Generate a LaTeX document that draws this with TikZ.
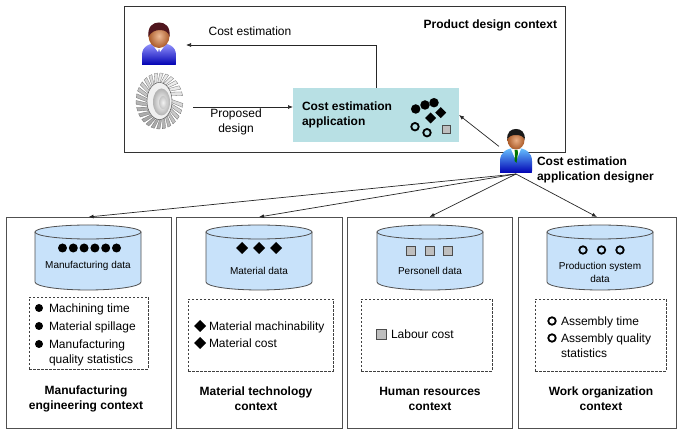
\documentclass[tikz,border=0pt]{standalone}
\usepackage{fontspec}
\setmainfont{Liberation Sans}
\usetikzlibrary{arrows.meta,shapes.geometric,calc}

\definecolor{appfill}{RGB}{184,224,228}
\definecolor{dbfill}{RGB}{200,226,250}
\definecolor{edge}{RGB}{80,80,80}
\definecolor{sqgray}{RGB}{190,190,190}
\definecolor{hairred}{RGB}{80,22,30}
\definecolor{skin}{RGB}{225,140,80}
\definecolor{skindark}{RGB}{170,90,40}

\tikzset{
  every node/.style={inner sep=0pt, outer sep=0pt},
  txt/.style={font=\fontsize{12}{15}\selectfont},
  btxt/.style={font=\fontsize{12}{15}\selectfont\bfseries},
  stxt/.style={font=\fontsize{10}{13}\selectfont},
  one/.style={text height=8.6pt, text depth=0pt},
  conn/.style={draw=black!85, line width=0.7pt, -{Latex[length=5pt,width=4pt]}},
  ctxbox/.style={draw=edge, line width=0.9pt, minimum height=211pt},
  dashbox/.style={draw=black!75, line width=0.6pt, dash pattern=on 2.5pt off 1.5pt, minimum height=72pt},
  holder/.style={minimum width=#1, minimum height=46pt},
  fdot/.style={circle, fill=black, minimum size=9pt},
  odot/.style={circle, draw=black, line width=1.8pt, minimum size=7.5pt},
  dmd/.style={diamond, fill=black, minimum size=12pt},
  gsq/.style={rectangle, fill=sqgray, draw=black!70, line width=0.6pt, minimum size=9pt},
  pics/datastore/.style={code={
    \path[fill=dbfill] (-53,232) -- (-53,282)
      arc[start angle=180,end angle=360,x radius=53pt,y radius=8pt] -- (53,232) -- cycle;
    \draw[edge, line width=0.8pt] (-53,232) -- (-53,282)
      arc[start angle=180,end angle=360,x radius=53pt,y radius=8pt] -- (53,232);
    \draw[edge, line width=0.8pt, fill=dbfill] (0,232) ellipse[x radius=53pt, y radius=7pt];
  }}
}

\begin{document}
\begin{tikzpicture}[x=1pt,y=-1pt]
\useasboundingbox[fill=white] (0,0) rectangle (678,430);

% ---------- product design context ----------
\node[draw=black!80, line width=1pt, minimum width=441pt, minimum height=146pt] (pdctx) at (344.5,80) {};
\node[btxt, one, anchor=east] (pdlabel) at (557,24) {Product design context};

\node[fill=appfill, minimum width=166pt, minimum height=54pt] (appbox) at (376,115) {};
\node[btxt, align=left, anchor=west] (applabel) at (302,115) {Cost estimation\\application};
\node[fdot, minimum size=9.5pt] (a1) at (415.7,109) {};
\node[fdot, minimum size=9.5pt] (a2) at (425,105) {};
\node[fdot, minimum size=9.5pt] (a3) at (434,102.7) {};
\node[dmd, minimum size=11pt] (a4) at (440.7,112.7) {};
\node[dmd, minimum size=11pt] (a5) at (430.7,118) {};
\node[odot] (a6) at (415,126.7) {};
\node[odot] (a7) at (427,132.7) {};
\node[gsq, minimum size=8pt] (a8) at (446,129.3) {};

% product designer
\node[holder=46pt] (user) at (163,45) {};
\begin{scope}[shift={(159,35)}]
  \shade[top color=blue!40!white, bottom color=blue!70!black]
    (-17,30) -- (-17,20) .. controls (-17,11) and (-9,8) .. (0,8)
    .. controls (9,8) and (17,11) .. (17,20) -- (17,28)
    .. controls (17,30) .. (15,30) -- (-15,30) .. controls (-17,30) .. (-17,28) -- cycle;
  \fill[white] (-7,9) -- (-1,17) -- (0,13) -- (1,17) -- (7,9) -- (4,8) -- (0,12) -- (-4,8) -- cycle;
  \shade[inner color=skin!60!white, outer color=skindark] (0,1) ellipse[x radius=10.5pt, y radius=12pt];
  \fill[hairred] (-10.7,2) .. controls (-11.5,-9) and (-6,-12.5) .. (0,-12.5)
    .. controls (6,-12.5) and (11.5,-9) .. (10.7,2)
    .. controls (9.5,-3) and (6,-5) .. (1,-5)
    .. controls (-4,-5) and (-8,-3) .. (-10.7,2) -- cycle;
\end{scope}

% turbine disk seen at an angle
\node[holder=60pt] (turbine) at (163,107) {};
\begin{scope}[shift={(159.5,101)}]
  \foreach \a in {0,14,...,346}{
    \pgfmathsetmacro{\shd}{int(42+24*sin(\a)-12*cos(\a))}
    \fill[gray!\shd, draw=black!55, line width=0.3pt]
      ({12*cos(\a-5)},{18*sin(\a-5)}) -- ({12*cos(\a+5)},{18*sin(\a+5)})
      -- ({23.5*cos(\a+13)},{28*sin(\a+13)}) -- ({23.5*cos(\a+5)},{28*sin(\a+5)}) -- cycle;
  }
  \fill[gray!12, draw=gray!60!black, line width=0.4pt]
    (0,0) ellipse[x radius=12.5pt, y radius=18.5pt];
  \shade[inner color=white, outer color=gray!60] (2,1) ellipse[x radius=8.5pt, y radius=13.5pt];
  \shade[inner color=gray!10, outer color=gray!45] (3.5,1.5) ellipse[x radius=4pt, y radius=6.5pt];
\end{scope}

\draw[conn] (appbox.north) |- (user.east);
\node[txt, one] (celabel) at (250,31) {Cost estimation};
\draw[conn] (turbine.east) -- (turbine.east -| appbox.west);
\node[txt, align=center] (pdesign) at (236,122) {Proposed\\design};

% application designer
\node[holder=34pt] (designer) at (516,151) {};
\begin{scope}[shift={(516,139)}]
  \shade[top color=blue!40!cyan!60!white, bottom color=blue!70!black]
    (-16,34) -- (-16,22) .. controls (-16,13) and (-9,9) .. (0,9)
    .. controls (9,9) and (16,13) .. (16,22) -- (16,32)
    .. controls (16,34) .. (14,34) -- (-14,34) .. controls (-16,34) .. (-16,32) -- cycle;
  \fill[white] (-5,10) -- (0,22) -- (5,10) -- cycle;
  \fill[green!45!black] (-1.5,11) -- (1.5,11) -- (2,14) -- (0.5,24) -- (-1.5,22) -- (-1,14) -- cycle;
  \shade[inner color=skin!70!white, outer color=skindark] (0,1) ellipse[x radius=8.5pt, y radius=9.5pt];
  \fill[black!90] (-8.7,1) .. controls (-9.5,-7) and (-5,-10) .. (0,-10)
    .. controls (5,-10) and (9.5,-7) .. (8.7,1)
    .. controls (7.5,-3) and (4,-4) .. (0,-4)
    .. controls (-4,-4) and (-7.5,-3) .. (-8.7,1) -- cycle;
\end{scope}
\node[btxt, align=left, anchor=west] (dlabel) at (537,170) {Cost estimation\\application designer};
\draw[conn] (designer.165) -- (appbox.east);

% ---------- the four data contexts ----------
\node[ctxbox, minimum width=165pt] (ctx1) at (88.5,322.5) {};
\node[ctxbox, minimum width=166pt] (ctx2) at (259,322.5) {};
\node[ctxbox, minimum width=165pt] (ctx3) at (429.5,322.5) {};
\node[ctxbox, minimum width=158pt] (ctx4) at (597,322.5) {};

\foreach \c in {ctx1,ctx2,ctx3,ctx4}{
  \draw[conn] (designer.south) -- (\c.north);
}

% data stores
\pic at (88,0) {datastore};
\pic at (259,0) {datastore};
\pic at (430,0) {datastore};
\pic at (600,0) {datastore};

\foreach \i in {0,...,5}{
  \node[fdot] (md\i) at ({62.5+\i*10.8},248) {};
}
\node[stxt, one, text height=7.2pt] (mdata) at (88,265) {Manufacturing data};

\foreach \i in {0,1,2}{
  \node[dmd] (mt\i) at ({242+\i*17},248) {};
  \node[gsq] (pe\i) at ({411+\i*18.5},251) {};
  \node[odot] (ps\i) at ({583+\i*18.5},250) {};
}
\node[stxt, one, text height=7.2pt] (mtdata) at (259,271) {Material data};
\node[stxt, one, text height=7.2pt] (pedata) at (430,271) {Personell data};
\node[stxt, align=center] (psdata) at (600,272) {Production system\\data};

% item lists
\node[dashbox, minimum width=119pt] (d1) at (88.5,333) {};
\node[dashbox, minimum width=145pt] (d2) at (260.5,335) {};
\node[dashbox, minimum width=131pt] (d3) at (426.5,335) {};
\node[dashbox, minimum width=131pt] (d4) at (600.5,335) {};

\node[fdot, minimum size=8pt] (b11) at (39,308) {};
\node[fdot, minimum size=8pt] (b12) at (39,326) {};
\node[fdot, minimum size=8pt] (b13) at (39,344) {};
\node[txt, one, anchor=west] (i11) at (49,308) {Machining time};
\node[txt, one, anchor=west] (i12) at (49,326) {Material spillage};
\node[txt, align=left, anchor=north west] (i13) at (49,339.5) {Manufacturing\\quality statistics};

\node[dmd] (b21) at (200,326) {};
\node[dmd] (b22) at (200,343) {};
\node[txt, one, anchor=west] (i21) at (209,326) {Material machinability};
\node[txt, one, anchor=west] (i22) at (209,343) {Material cost};

\node[gsq, minimum size=10pt] (b31) at (381,334) {};
\node[txt, one, anchor=west] (i31) at (391,334) {Labour cost};

\node[odot, minimum size=7.5pt] (b41) at (552,321) {};
\node[odot, minimum size=7.5pt] (b42) at (552,338) {};
\node[txt, one, anchor=west] (i41) at (561,321) {Assembly time};
\node[txt, align=left, anchor=north west] (i42) at (561,333.5) {Assembly quality\\statistics};

% context titles
\node[btxt, align=center] (t1) at (86,398.5) {Manufacturing\\engineering context};
\node[btxt, align=center] (t2) at (256,398.5) {Material technology\\context};
\node[btxt, align=center] (t3) at (430,398.5) {Human resources\\context};
\node[btxt, align=center] (t4) at (601,398.5) {Work organization\\context};
\end{tikzpicture}
\end{document}
